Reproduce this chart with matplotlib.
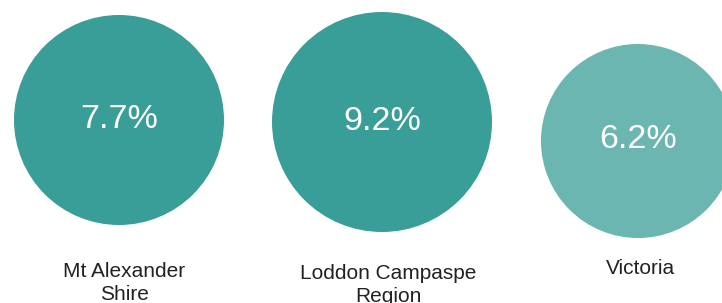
import matplotlib.pyplot as plt
from matplotlib.patches import Circle

plt.rcParams['font.family'] = ['Liberation Sans', 'DejaVu Sans']

regions = ['Mt Alexander\nShire', 'Loddon Campaspe\nRegion', 'Victoria']
values = [7.7, 9.2, 6.2]
colors = ['#3a9e98', '#3a9e98', '#6bb6b0']

# layout in pixel coordinates (circle centre, radius, label position)
centers = [(119, 120), (382, 122), (638, 141)]
radii = [105, 110, 97]
label_pos = [(124, 283), (388, 285), (640, 269)]

fig = plt.figure(figsize=(7.22, 3.03), dpi=100)
ax = fig.add_axes([0, 0, 1, 1])
ax.set_xlim(0, 722)
ax.set_ylim(303, 0)
ax.set_aspect('equal')
ax.axis('off')

for (cx, cy), r, v, c in zip(centers, radii, values, colors):
    ax.add_patch(Circle((cx, cy), r, color=c, lw=0))
    ax.text(cx, cy - 1, f'{v}%', ha='center', va='center', color='white', fontsize=24.5)

for (lx, ly), name in zip(label_pos, regions):
    ax.text(lx, ly, name, ha='center', va='center', color='#222222',
            fontsize=15, linespacing=1.3)

fig.savefig('out.png', dpi=100)
